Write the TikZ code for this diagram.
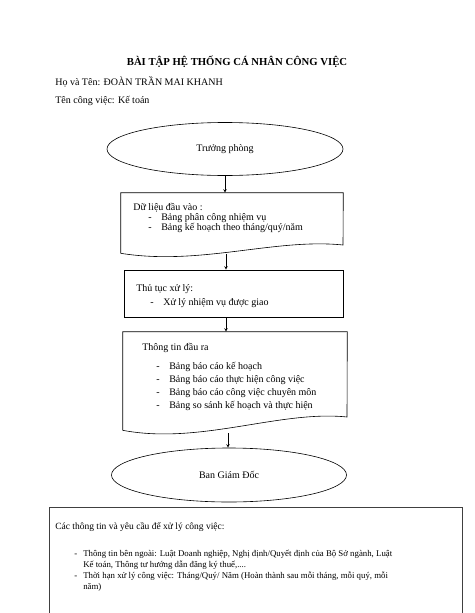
\documentclass[tikz,border=0pt]{standalone}
\usepackage{fontspec}
\setmainfont{Liberation Serif}
\usetikzlibrary{shapes.geometric}
\tikzset{
  txt/.style={anchor=west, inner sep=0pt, font=\fontsize{10}{11}\selectfont},
  small/.style={txt, font=\fontsize{8.8}{11}\selectfont},
  oval/.style={ellipse, draw, inner sep=0pt, font=\fontsize{10}{11}\selectfont},
  frame/.style={inner sep=0pt}
}
\newcommand{\itemdash}[1]{\makebox[13pt][l]{-}#1}
\newcommand{\smalldash}[1]{\makebox[9pt][l]{-}#1}
\begin{document}
\begin{tikzpicture}[x=1pt, y=-1pt, >=stealth, line width=0.6pt]
\useasboundingbox (0,0) rectangle (474,613);

% heading
\node[inner sep=0pt, font=\fontsize{10.7}{12}\selectfont\bfseries] (title) at (237,62) {BÀI TẬP HỆ THỐNG CÁ NHÂN CÔNG VIỆC};
\node[txt] (ten) at (55,82) {Họ và Tên: ĐOÀN TRẦN MAI KHANH};
\node[txt] (cv) at (55,101) {Tên công việc: Kế toán};

% start
\node[oval, minimum width=236pt, minimum height=53pt] (tp) at (225,149) {Trưởng phòng};

% input data
\node[frame, minimum width=222pt, minimum height=60pt] (dl) at (232,223) {};
\draw (dl.south west) -- (dl.north west) -- (dl.north east) -- (343,245)
  .. controls (275,238) and (200,266) .. (dl.south west);
\coordinate (dlb) at (226,254);
\node[txt] (dl0) at (133,208) {Dữ liệu đầu vào :};
\foreach \t [count=\i] in {Bảng phân công nhiệm vụ, Bảng kế hoạch theo tháng/quý/năm}
{
    \node[txt] (dl\i) at (148,208+10*\i) {\itemdash{\t}};
}

% processing
\node[frame, draw, minimum width=219pt, minimum height=47pt] (tt) at (233.5,293.5) {};
\node[txt] (tt0) at (136,289) {Thủ tục xử lý:};
\node[txt] (tt1) at (150,303) {\itemdash{Xử lý nhiệm vụ được giao}};

% output data
\node[frame, minimum width=224pt, minimum height=98pt] (tr) at (235,381) {};
\draw (tr.south west) -- (tr.north west) -- (tr.north east) -- (347,417)
  .. controls (280,410) and (200,445) .. (tr.south west);
\coordinate (trb) at (228,433);
\node[txt] (tr0) at (142,348) {Thông tin đầu ra};
\foreach \t [count=\i] in {Bảng báo cáo kế hoạch, Bảng báo cáo thực hiện công việc, Bảng báo cáo công việc chuyên môn, Bảng so sánh kế hoạch và thực hiện}
{
    \node[txt] (tr\i) at (156,354+13*\i) {\itemdash{\t}};
}

% end
\node[oval, minimum width=235pt, minimum height=54pt] (bgd) at (229,475) {Ban Giám Đốc};

% arrows
\draw[->] (tp.south) -- (tp.south |- dl.north);
\draw[->] (dlb) -- (dlb |- tt.north);
\draw[->] (tt.south -| dlb) -- (dlb |- tr.north);
\draw[->] (trb) -- (trb |- bgd.north);

% requirements box
\draw[black!75, line width=1pt] (49,613) -- (49,507) -- (462,507) -- (462,613);
\node[txt, font=\fontsize{9.5}{11}\selectfont] (yc) at (55,527) {Các thông tin và yêu cầu để xử lý công việc:};
\node[small, anchor=north west, align=left] (yc1) at (74,550) {\smalldash{Thông tin bên ngoài: Luật Doanh nghiệp, Nghị định/Quyết định của Bộ Sở ngành, Luật}\\
  \hspace*{9pt}Kế toán, Thông tư hướng dẫn đăng ký thuế,....};
\node[small, anchor=north west, align=left] (yc2) at (74,572) {\smalldash{Thời hạn xử lý công việc: Tháng/Quý/ Năm (Hoàn thành sau mỗi tháng, mỗi quý, mỗi}\\
  \hspace*{9pt}năm)};

\end{tikzpicture}
\end{document}
